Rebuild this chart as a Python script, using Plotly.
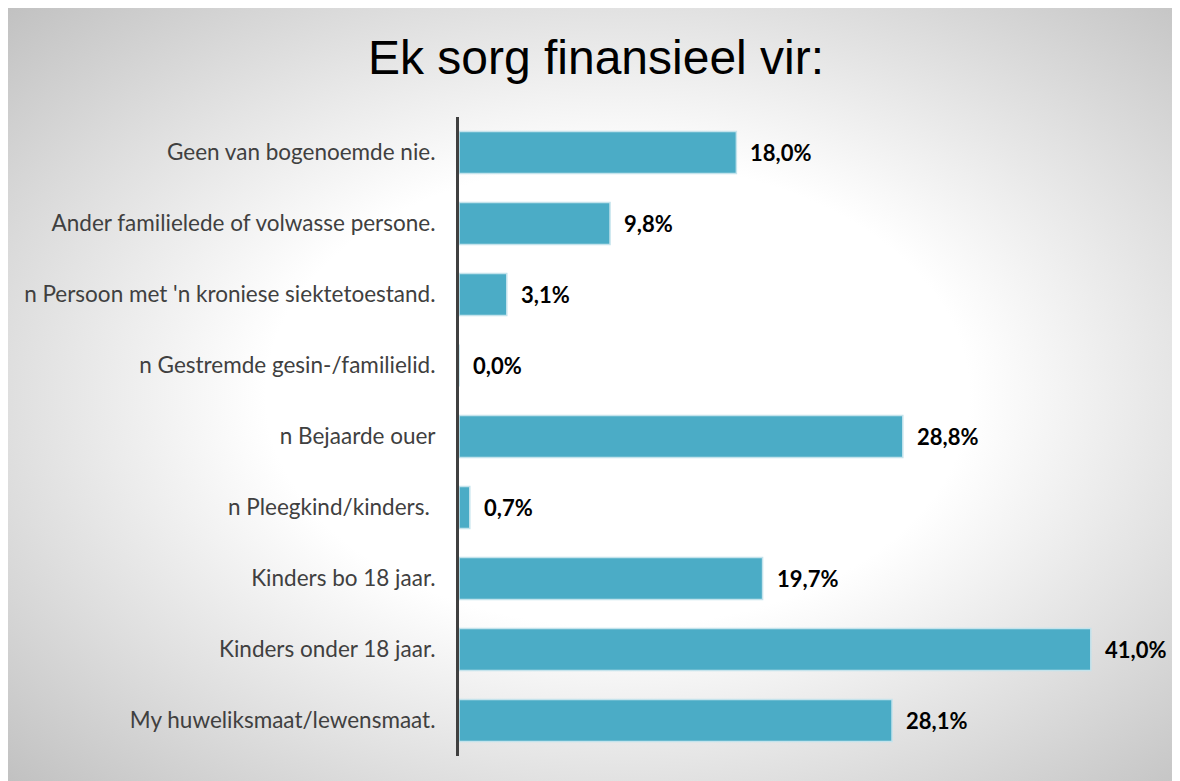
import base64
import plotly.graph_objects as go

# Data (bottom to top as drawn)
categories = [
    "My huweliksmaat/lewensmaat.",
    "Kinders onder 18 jaar.",
    "Kinders bo 18 jaar.",
    "n Pleegkind/kinders. ",
    "n Bejaarde ouer",
    "n Gestremde gesin-/familielid.",
    "n Persoon met 'n kroniese siektetoestand.",
    "Ander familielede of volwasse persone.",
    "Geen van bogenoemde nie.",
]
values = [28.1, 41.0, 19.7, 0.7, 28.8, 0.0, 3.1, 9.8, 18.0]
title_text = "Ek sorg finansieel vir:"

W, H = 1172, 773
L, R, T, B = 451, 30, 109, 25
pw, ph = W - L - R, H - T - B

svg = """<svg xmlns='http://www.w3.org/2000/svg' width='1172' height='773' viewBox='0 0 1172 773' preserveAspectRatio='none'>
<defs><radialGradient id='g' cx='0.52' cy='0.5' r='0.75'>
<stop offset='0' stop-color='#ffffff'/>
<stop offset='0.4' stop-color='#ffffff'/>
<stop offset='1' stop-color='#bdbdbd'/>
</radialGradient></defs>
<rect x='0' y='0' width='1172' height='773' fill='url(#g)'/>
</svg>"""
src = "data:image/svg+xml;base64," + base64.b64encode(svg.encode()).decode()

fig = go.Figure()
fig.add_trace(go.Bar(
    x=values,
    y=categories,
    orientation="h",
    marker=dict(color="#4BACC6", line=dict(color="#c4e3ec", width=1.5)),
    hoverinfo="skip",
))

annotations = []
for c, v in zip(categories, values):
    annotations.append(dict(
        x=v, y=c, xref="x", yref="y",
        text=f"{v:.1f}%".replace(".", ","),
        showarrow=False, xanchor="left", yanchor="middle",
        xshift=12,
        font=dict(family="Lato", size=22, color="#000000", weight="bold"),
    ))

fig.update_layout(
    width=W, height=H,
    margin=dict(l=L, r=R, t=T, b=B),
    paper_bgcolor="white",
    plot_bgcolor="rgba(0,0,0,0)",
    showlegend=False,
    bargap=0.41,
    title=dict(
        text=title_text,
        x=588 / W, xref="container", xanchor="center",
        y=1 - 49 / H, yref="container", yanchor="middle",
        font=dict(family="Liberation Sans, Arial", size=48, color="#000000"),
    ),
    xaxis=dict(
        range=[0, pw / 15.41],
        showgrid=False, zeroline=False, showticklabels=False,
        showline=False, ticks="",
    ),
    yaxis=dict(
        type="category",
        categoryorder="array", categoryarray=categories,
        showgrid=False, zeroline=False,
        showline=True, linecolor="#404040", linewidth=3,
        ticks="outside", ticklen=16, tickcolor="rgba(0,0,0,0)",
        tickfont=dict(family="Lato", size=22.5, color="#404040"),
    ),
    images=[dict(
        source=src, xref="paper", yref="paper",
        x=-L / pw, y=1 + T / ph,
        sizex=W / pw, sizey=H / ph,
        xanchor="left", yanchor="top",
        sizing="stretch", layer="below",
    )],
    annotations=annotations,
)

fig.write_html("out.html")
